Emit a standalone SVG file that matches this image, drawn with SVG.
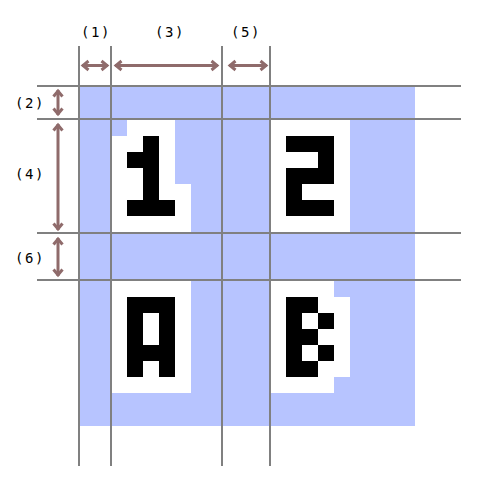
<svg xmlns="http://www.w3.org/2000/svg" width="490" height="491" viewBox="0 0 490 491">
<style>
.bg{fill:#b7c4ff}
.wh{fill:#ffffff}
.bk{fill:#000000}
.grid{stroke:#808080;stroke-width:2;fill:none}
.arr{stroke:#8f6b6b;stroke-width:3;fill:none;marker-start:url(#ah);marker-end:url(#ah)}
.lbl{font-family:"DejaVu Sans Mono","Liberation Mono",monospace;font-size:14px;letter-spacing:1.6px;fill:#000;text-anchor:middle}
</style>
<defs>
<marker id="ah" markerUnits="userSpaceOnUse" markerWidth="14" markerHeight="14" viewBox="-10 -7 14 14" refX="0" refY="0" orient="auto-start-reverse" overflow="visible">
<path d="M-6.5,-4.5 L-1,0 L-6.5,4.5" fill="none" stroke="#8f6b6b" stroke-width="3"/>
</marker>
</defs>
<rect width="490" height="491" fill="#ffffff"/>
<rect class="bg" x="79" y="86" width="336" height="340"/>
<g id="glyph-1">
<path class="wh" d="M127,120 H175 V184 H191 V232 H111 V136 H127 Z"/>
<rect class="bk" x="143" y="136" width="16" height="16"/>
<rect class="bk" x="127" y="152" width="32" height="16"/>
<rect class="bk" x="143" y="168" width="16" height="32"/>
<rect class="bk" x="127" y="200" width="48" height="16"/>
</g>
<g id="glyph-2">
<rect class="wh" x="270" y="120" width="80" height="112"/>
<rect class="bk" x="286" y="136" width="48" height="16"/>
<rect class="bk" x="318" y="152" width="16" height="16"/>
<rect class="bk" x="286" y="168" width="48" height="16"/>
<rect class="bk" x="286" y="184" width="16" height="16"/>
<rect class="bk" x="286" y="200" width="48" height="16"/>
</g>
<g id="glyph-A">
<rect class="wh" x="111" y="281" width="80" height="112"/>
<rect class="bk" x="127" y="297" width="48" height="16"/>
<rect class="bk" x="127" y="313" width="16" height="32"/>
<rect class="bk" x="159" y="313" width="16" height="32"/>
<rect class="bk" x="127" y="345" width="48" height="16"/>
<rect class="bk" x="127" y="361" width="16" height="16"/>
<rect class="bk" x="159" y="361" width="16" height="16"/>
</g>
<g id="glyph-B">
<path class="wh" d="M270,281 H334 V297 H350 V377 H334 V393 H270 Z"/>
<rect class="bk" x="286" y="297" width="16" height="80"/>
<rect class="bk" x="302" y="297" width="16" height="16"/>
<rect class="bk" x="302" y="329" width="16" height="16"/>
<rect class="bk" x="302" y="361" width="16" height="16"/>
<rect class="bk" x="318" y="313" width="16" height="16"/>
<rect class="bk" x="318" y="345" width="16" height="16"/>
</g>
<g id="grid">
<line class="grid" x1="79" y1="46" x2="79" y2="466"/>
<line class="grid" x1="111" y1="46" x2="111" y2="466"/>
<line class="grid" x1="222" y1="46" x2="222" y2="466"/>
<line class="grid" x1="270" y1="46" x2="270" y2="466"/>
<line class="grid" x1="37" y1="86" x2="461" y2="86"/>
<line class="grid" x1="37" y1="119" x2="461" y2="119"/>
<line class="grid" x1="37" y1="233" x2="461" y2="233"/>
<line class="grid" x1="37" y1="280" x2="461" y2="280"/>
</g>
<g id="connectors">
<line class="arr" x1="82" y1="65.5" x2="108" y2="65.5"/>
<line class="arr" x1="115" y1="65.5" x2="218" y2="65.5"/>
<line class="arr" x1="229" y1="65.5" x2="267" y2="65.5"/>
<line class="arr" x1="58" y1="90" x2="58" y2="115"/>
<line class="arr" x1="58" y1="124" x2="58" y2="230"/>
<line class="arr" x1="58" y1="238" x2="58" y2="276"/>
</g>
<g id="labels">
<text class="lbl" x="96" y="37">(1)</text>
<text class="lbl" x="170" y="37">(3)</text>
<text class="lbl" x="246" y="37">(5)</text>
<text class="lbl" x="30" y="108">(2)</text>
<text class="lbl" x="30" y="179">(4)</text>
<text class="lbl" x="30" y="263">(6)</text>
</g>
</svg>
